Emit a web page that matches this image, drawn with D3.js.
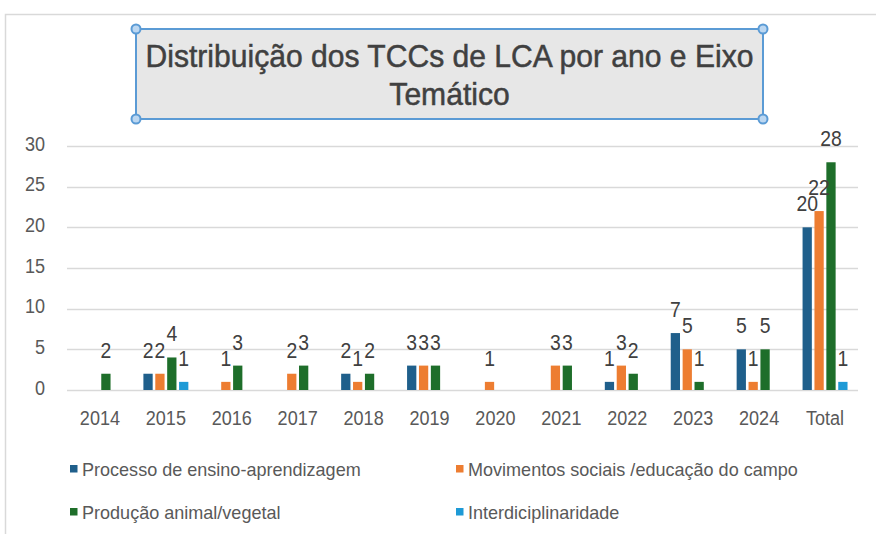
<!DOCTYPE html>
<html>
<head>
<meta charset="utf-8">
<script src="https://cdn.jsdelivr.net/npm/d3@7"></script>
<style>
  body { margin: 0; background: #fff; }
  svg text { font-family: "Liberation Sans", Arial, sans-serif; }
</style>
</head>
<body>
<div id="chart"></div>
<script>
// chart data
var categories = ["2014", "2015", "2016", "2017", "2018", "2019", "2020", "2021", "2022", "2023", "2024", "Total"];
var seriesNames = ["Processo de ensino-aprendizagem", "Movimentos sociais /educação do campo", "Produção animal/vegetal", "Interdiciplinaridade"];
var processo   = [0, 2, 0, 0, 2, 3, 0, 0, 1, 7, 5, 20];
var movimentos = [0, 2, 1, 2, 1, 3, 1, 3, 3, 5, 1, 22];
var producao   = [2, 4, 3, 3, 2, 3, 0, 3, 2, 1, 5, 28];
var interdisc  = [0, 1, 0, 0, 0, 0, 0, 0, 0, 0, 0, 1];
var yTicks = [0, 5, 10, 15, 20, 25, 30];
var titleLines = ["Distribuição dos TCCs de LCA por ano e Eixo", "Temático"];

var width = 876, height = 534;
var colors = ["#1f5f8b", "#ed7d31", "#1e6e2a", "#1e9ad6"];
var values = [processo, movimentos, producao, interdisc];

// narrow text look: place with translate, squeeze horizontally
function narrow(sx) {
    return function(p) { return "translate(" + p[0] + "," + p[1] + ") scale(" + sx + ",1)"; };
}

var svg = d3.select("#chart").append("svg")
    .attr("width", width)
    .attr("height", height);

// outer frame (top and left edges visible)
svg.append("path")
    .attr("d", "M5.5,534V14.5H876")
    .attr("fill", "none")
    .attr("stroke", "#d9d9d9")
    .attr("stroke-width", 1.5);

var x = d3.scaleBand()
    .domain(categories)
    .range([67, 858])
    .paddingInner(0.3)
    .paddingOuter(0.15);

var x1 = d3.scaleBand()
    .domain(d3.range(seriesNames.length))
    .range([0, x.bandwidth()])
    .paddingInner(0.22)
    .paddingOuter(0.05);

var y = d3.scaleLinear()
    .domain([0, 30])
    .range([390, 146]);

// gridlines
svg.append("g")
    .selectAll("line")
    .data(yTicks)
    .enter().append("line")
    .attr("x1", 67)
    .attr("x2", 858)
    .attr("y1", function(d) { return Math.round(y(d)) + 0.5; })
    .attr("y2", function(d) { return Math.round(y(d)) + 0.5; })
    .attr("stroke", "#d9d9d9")
    .attr("stroke-width", 1.5);

var axisT = narrow(0.86);

// y axis labels
svg.append("g")
    .selectAll("text")
    .data(yTicks)
    .enter().append("text")
    .attr("transform", function(d) { return axisT([45, y(d) + 4.5]); })
    .attr("text-anchor", "end")
    .attr("font-size", 21)
    .attr("fill", "#595959")
    .text(function(d) { return d; });

// x axis labels
svg.append("g")
    .selectAll("text")
    .data(categories)
    .enter().append("text")
    .attr("transform", function(d) { return axisT([x(d) + x.bandwidth() / 2, 425]); })
    .attr("text-anchor", "middle")
    .attr("font-size", 21)
    .attr("fill", "#595959")
    .text(function(d) { return d; });

// bars + labels
var rows = [];
values.forEach(function(arr, s) {
    arr.forEach(function(v, i) {
        if (v > 0) rows.push({ cat: categories[i], s: s, v: v });
    });
});

var bars = svg.append("g");
bars.selectAll("rect")
    .data(rows)
    .enter().append("rect")
    .attr("x", function(d) { return x(d.cat) + x1(d.s); })
    .attr("y", function(d) { return y(d.v); })
    .attr("width", x1.bandwidth())
    .attr("height", function(d) { return y(0) - y(d.v); })
    .attr("fill", function(d) { return colors[d.s]; });

var labelT = narrow(0.88);
bars.selectAll("text")
    .data(rows)
    .enter().append("text")
    .attr("transform", function(d) {
        return labelT([x(d.cat) + x1(d.s) + x1.bandwidth() / 2, y(d.v) - 16]);
    })
    .attr("text-anchor", "middle")
    .attr("font-size", 22)
    .attr("fill", "#404040")
    .text(function(d) { return d.v; });

// legend
var legendPos = [[70, 469], [456, 469], [70, 512], [456, 512]];
var legend = svg.append("g")
    .selectAll("g")
    .data(seriesNames)
    .enter().append("g")
    .attr("transform", function(d, i) { return "translate(" + legendPos[i][0] + "," + legendPos[i][1] + ")"; });

legend.append("rect")
    .attr("x", 0)
    .attr("y", -4)
    .attr("width", 7.5)
    .attr("height", 7.5)
    .attr("fill", function(d, i) { return colors[i]; });

legend.append("text")
    .attr("transform", "translate(12,7) scale(0.95,1)")
    .attr("font-size", 19)
    .attr("fill", "#595959")
    .text(function(d) { return d; });

// title box (selected shape look)
var box = { x0: 136, y0: 29, x1: 763, y1: 119 };
svg.append("rect")
    .attr("x", box.x0)
    .attr("y", box.y0)
    .attr("width", box.x1 - box.x0)
    .attr("height", box.y1 - box.y0)
    .attr("fill", "#e7e7e7")
    .attr("stroke", "#5b9bd5")
    .attr("stroke-width", 2);

svg.append("g")
    .selectAll("circle")
    .data([[box.x0, box.y0], [box.x1, box.y0], [box.x0, box.y1], [box.x1, box.y1]])
    .enter().append("circle")
    .attr("cx", function(d) { return d[0]; })
    .attr("cy", function(d) { return d[1]; })
    .attr("r", 4.5)
    .attr("fill", "#bcd7f1")
    .attr("stroke", "#5b9bd5")
    .attr("stroke-width", 2);

var titleT = narrow(0.94);
svg.append("g")
    .selectAll("text")
    .data(titleLines)
    .enter().append("text")
    .attr("transform", function(d, i) { return titleT([(box.x0 + box.x1) / 2, 67 + i * 38]); })
    .attr("text-anchor", "middle")
    .attr("font-size", 32)
    .attr("fill", "#404040")
    .attr("stroke", "#404040")
    .attr("stroke-width", 0.5)
    .text(function(d) { return d; });
</script>
</body>
</html>
